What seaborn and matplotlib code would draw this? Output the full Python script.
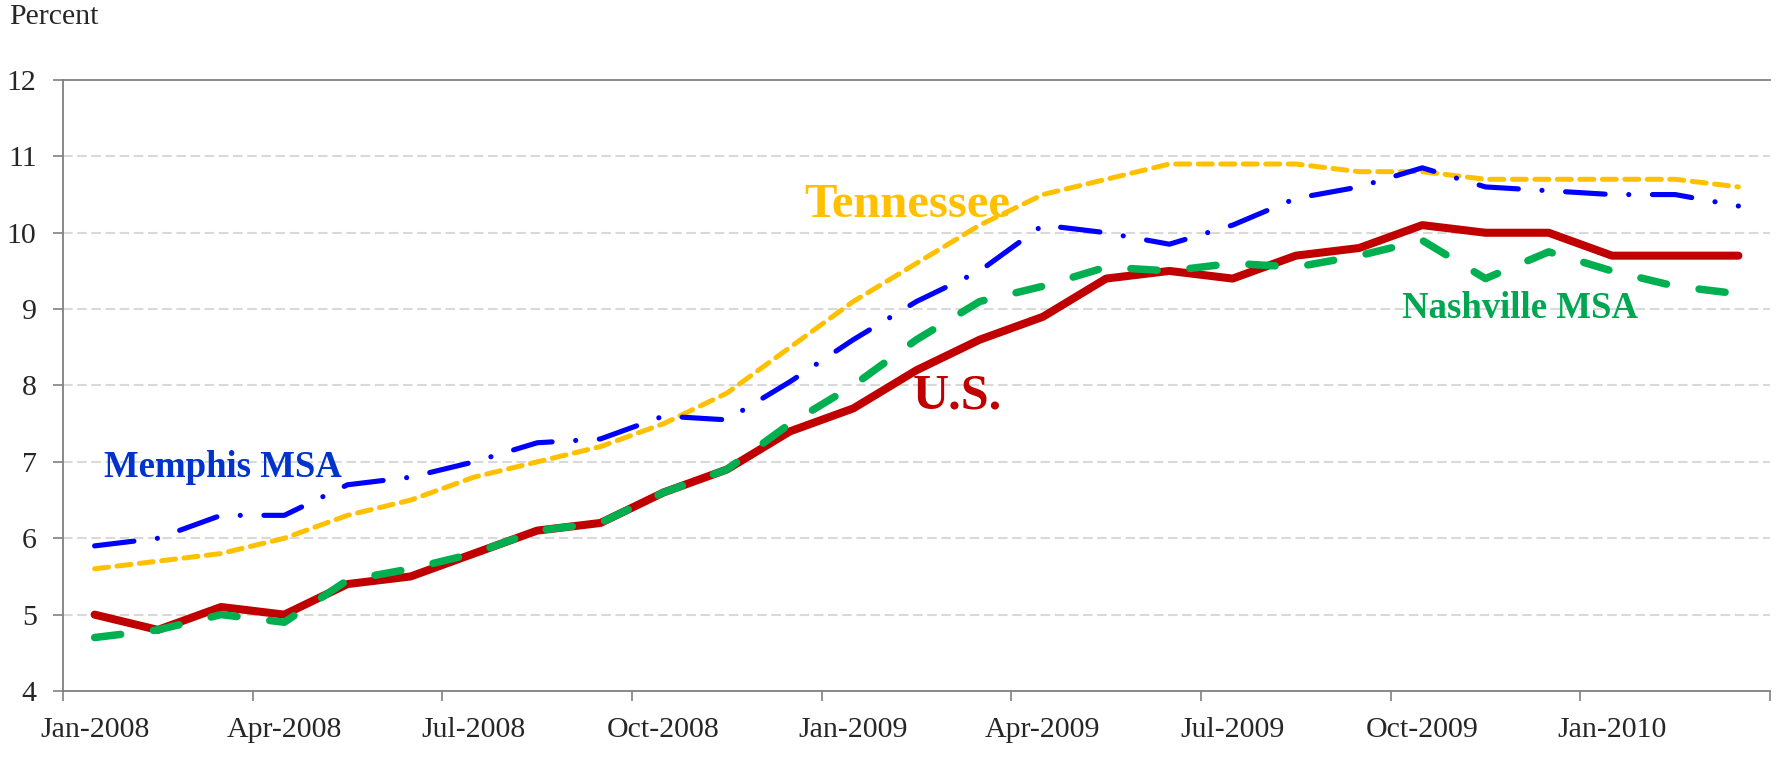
import matplotlib
matplotlib.use("Agg")
import matplotlib.pyplot as plt
import seaborn as sns
import pandas as pd
import numpy as np

months = ["Jan-2008","Feb-2008","Mar-2008","Apr-2008","May-2008","Jun-2008","Jul-2008","Aug-2008","Sep-2008",
          "Oct-2008","Nov-2008","Dec-2008","Jan-2009","Feb-2009","Mar-2009","Apr-2009","May-2009","Jun-2009",
          "Jul-2009","Aug-2009","Sep-2009","Oct-2009","Nov-2009","Dec-2009","Jan-2010","Feb-2010","Mar-2010"]
us = [5.0, 4.8, 5.1, 5.0, 5.4, 5.5, 5.8, 6.1, 6.2, 6.6, 6.9, 7.4, 7.7, 8.2, 8.6, 8.9, 9.4, 9.5,
      9.4, 9.7, 9.8, 10.1, 10.0, 10.0, 9.7, 9.7, 9.7]
tennessee = [5.6, 5.7, 5.8, 6.0, 6.3, 6.5, 6.8, 7.0, 7.2, 7.5, 7.9, 8.5, 9.1, 9.6, 10.1, 10.5, 10.7, 10.9,
             10.9, 10.9, 10.8, 10.8, 10.7, 10.7, 10.7, 10.7, 10.6]
memphis = [5.9, 6.0, 6.3, 6.3, 6.7, 6.8, 7.0, 7.25, 7.3, 7.6, 7.55, 8.05, 8.6, 9.1, 9.5, 10.1, 10.0, 9.85,
           10.1, 10.45, 10.6, 10.85, 10.6, 10.55, 10.5, 10.5, 10.35]
nashville = [4.7, 4.8, 5.0, 4.9, 5.45, 5.6, 5.8, 6.1, 6.2, 6.6, 6.9, 7.5, 8.0, 8.6, 9.1, 9.3, 9.55, 9.5,
             9.6, 9.55, 9.7, 9.9, 9.4, 9.75, 9.5, 9.3, 9.2]
tick_labels = ["Jan-2008","Apr-2008","Jul-2008","Oct-2008","Jan-2009","Apr-2009","Jul-2009","Oct-2009","Jan-2010"]

idx = np.arange(len(months))
df = pd.DataFrame({"idx": idx, "month": months, "U.S.": us, "Tennessee": tennessee,
                   "Memphis MSA": memphis, "Nashville MSA": nashville})

sns.set_theme(style="white")
plt.rcParams['font.family'] = ['Liberation Serif', 'DejaVu Serif']

fig = plt.figure(figsize=(17.77, 7.57), dpi=100)
ax = fig.add_axes([63/1777, 1-691/757, (1770-63)/1777, (691-80)/757])

# gridlines
for yv in range(5, 12):
    ax.axhline(yv, color='#D9D9D9', lw=1.5, linestyle=(0, (4.6, 2.2)), zorder=0)

styles = [
    ("U.S.", '#C00000', 5.8, '-'),
    ("Nashville MSA", '#00B050', 5.4, (0, (3.5, 4.4))),
    ("Tennessee", '#FFC000', 3.6, (0, (2.8, 1.7))),
    ("Memphis MSA", '#0000FF', 3.7, (0, (7.7, 4.6, 0.01, 4.6))),
]
for name, col, lw, ls in styles:
    sns.lineplot(data=df, x="idx", y=name, ax=ax, color=col, linewidth=lw, linestyle=ls,
                 sort=False, errorbar=None, dash_capstyle='round', solid_capstyle='round',
                 solid_joinstyle='round')

ax.set_xlim(-0.5, 26.5)
ax.set_ylim(4, 12)
ax.set_yticks(range(4, 13))
ax.set_yticklabels([str(v) for v in range(4, 13)], fontsize=21.5)
ax.set_xticks(np.arange(-0.5, 27, 3))
ax.set_xticklabels([])
ax.set_xticks(np.arange(0, 27, 3), minor=True)
ax.set_xticklabels(tick_labels, minor=True, fontsize=21.5)
ax.tick_params(axis='x', which='major', length=7, width=1.2, color='#808080', direction='out', bottom=True)
ax.tick_params(axis='x', which='minor', length=0, pad=19, bottom=True)
ax.tick_params(axis='y', length=7, width=1.2, color='#808080', direction='out', pad=12, left=True)
ax.set_xlabel("")
ax.set_ylabel("")
for s in ['left', 'bottom', 'top']:
    ax.spines[s].set_color('#808080')
    ax.spines[s].set_linewidth(1.3)
ax.spines['right'].set_visible(False)

ax.text(12.85, 10.2, "Tennessee", color='#FFC000', fontsize=35, fontweight='bold', ha='center', va='baseline')
ax.text(13.65, 7.7, "U.S.", color='#C00000', fontsize=36, fontweight='bold', ha='center', va='baseline')
ax.text(2.03, 6.8, "Memphis MSA", color='#0033CC', fontsize=26.5, fontweight='bold', ha='center', va='baseline')
ax.text(22.55, 8.88, "Nashville MSA", color='#00A650', fontsize=26.5, fontweight='bold', ha='center', va='baseline')

fig.text(9/1777, 1-17/757, "Percent", fontsize=21.5, ha='left', va='center')

fig.savefig("out.png", dpi=100)
